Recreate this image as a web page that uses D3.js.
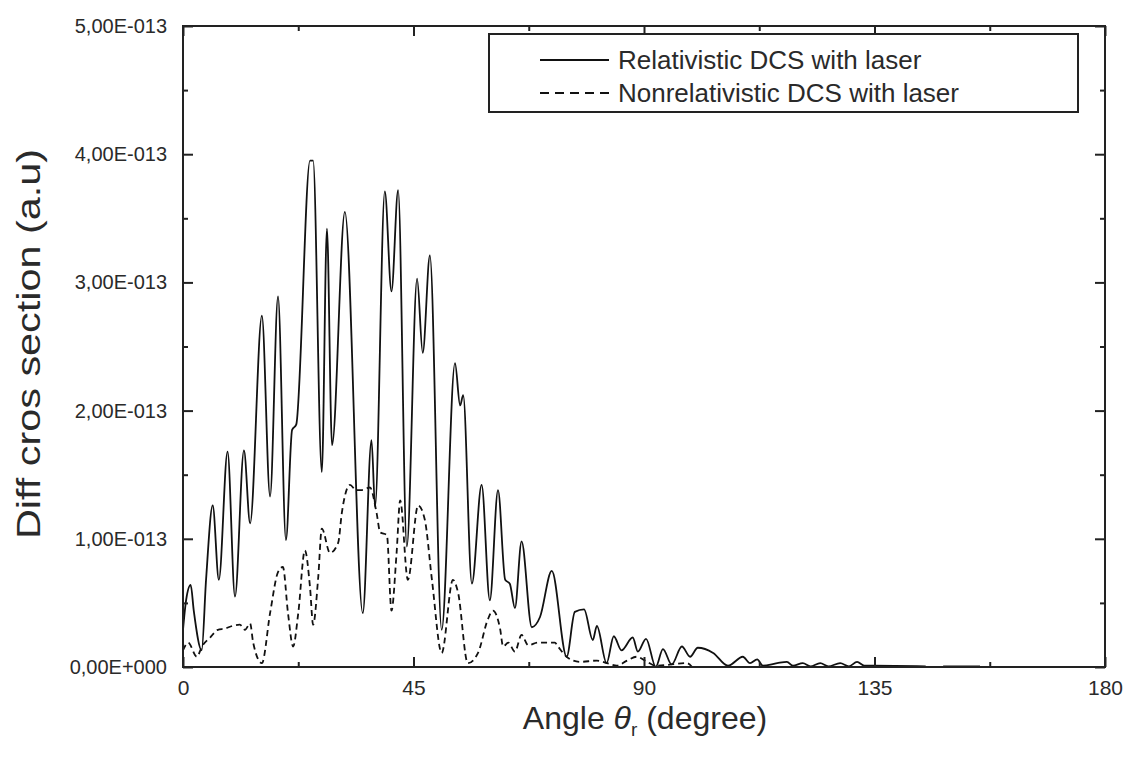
<!DOCTYPE html>
<html>
<head>
<meta charset="utf-8">
<script src="https://cdn.jsdelivr.net/npm/d3@7"></script>
<style>
  body { margin: 0; background: #fff; }
  text { font-family: "Liberation Sans", Arial, sans-serif; fill: #2a2a2a; }
</style>
</head>
<body>
<script>
// values of the y axis are in units of 1e-13 a.u.
var relAngle = [0, 0.6, 1.5, 2.1, 3.65, 4.5, 5.8, 7.0, 8.7, 10.15, 11.9, 13.1, 15.4, 17.0, 18.55, 20.1, 21.3, 22.1, 24.8, 25.4,
    27.1, 28.1, 29.1, 31.6, 35.1, 36.8, 37.5, 39.4, 40.7, 42.0, 43.7, 45.7, 46.8, 48.2, 50.5, 53.1, 54.1, 54.7, 56.4, 58.3,
    59.9, 61.5, 62.9, 63.8, 64.8, 66.1, 68.1, 69.7, 72.0, 74.9, 76.5, 78.3, 80.0, 80.8, 82.7, 84.1, 85.6, 87.8, 88.8, 90.4,
    92.3, 93.7, 95.4, 97.4, 99.0, 100.5, 103.5, 106.4, 109.3, 110.7, 112.1, 113.2, 116, 117.9, 119.1, 121, 122.5, 124.4, 126, 128.3,
    130, 131.6, 133, 134.7, 145, 146.5, 148.4, 155.6];
var relValue = [0.29, 0.52, 0.64, 0.44, 0.13, 0.68, 1.26, 0.68, 1.68, 0.55, 1.69, 1.12, 2.74, 1.33, 2.89, 0.99, 1.85, 1.89, 3.95, 3.95,
    1.52, 3.42, 1.73, 3.55, 0.42, 1.77, 1.25, 3.71, 2.93, 3.72, 0.94, 3.03, 2.45, 3.21, 0.29, 2.37, 2.04, 2.12, 0.65, 1.42,
    0.52, 1.38, 0.68, 0.65, 0.46, 0.98, 0.31, 0.39, 0.75, 0.08, 0.43, 0.45, 0.21, 0.32, 0.03, 0.24, 0.13, 0.23, 0.12, 0.22,
    0.0, 0.14, 0.02, 0.16, 0.08, 0.15, 0.11, 0.01, 0.08, 0.03, 0.06, 0.01, 0.03, 0.04, 0.01, 0.03, 0.005, 0.03, 0.005, 0.03,
    0.005, 0.04, 0.01, 0.01, 0.005, null, 0.005, 0.005];

var nonAngle = [0, 1.0, 2.7, 3.7, 5.3, 6.8, 8.2, 9.6, 11.1, 12.1, 13.1, 13.7, 15.4, 17.0, 18.55, 19.5, 20.5, 21.5, 22.5, 23.8,
    24.8, 25.4, 26.4, 27.1, 28.7, 30.3, 31.0, 32.6, 33.8, 34.9, 36.5, 37.8, 38.5, 39.8, 40.7, 41.7, 42.4, 43.9, 45.9, 47.2,
    48.6, 50.5, 52.7, 53.7, 55.6, 57.6, 59.5, 60.5, 61.9, 62.5, 63.5, 64.8, 66.1, 67.4, 69.3, 72.6, 73.2, 75.2, 77.5, 80.8,
    82.8, 84.7, 86.7, 88.6, 90.2, 92.3, 98.4, 99.4];
var nonValue = [0.13, 0.19, 0.08, 0.16, 0.23, 0.29, 0.30, 0.32, 0.33, 0.29, 0.34, 0.19, 0.03, 0.42, 0.74, 0.78, 0.42, 0.16, 0.42, 0.91,
    0.62, 0.33, 0.70, 1.08, 0.89, 0.97, 1.20, 1.42, 1.38, 1.38, 1.40, 1.20, 1.05, 1.03, 0.44, 0.89, 1.30, 0.68, 1.26, 1.15,
    0.68, 0.11, 0.68, 0.58, 0.03, 0.11, 0.37, 0.44, 0.30, 0.16, 0.19, 0.12, 0.25, 0.17, 0.19, 0.19, 0.16, 0.07, 0.04, 0.05,
    0.03, 0.01, 0.05, 0.08, 0.05, 0.01, 0.03, 0.0];

var xTicks = [0, 45, 90, 135, 180];
var xMinor = [22.5, 67.5, 112.5, 157.5];
var yTicks = [0, 1, 2, 3, 4, 5];
var yMinor = [0.5, 1.5, 2.5, 3.5, 4.5];
var yTickLabels = ["0,00E+000", "1,00E-013", "2,00E-013", "3,00E-013", "4,00E-013", "5,00E-013"];
var seriesNames = ["Relativistic DCS with laser", "Nonrelativistic DCS with laser"];

var W = 1124, H = 759;
var mLeft = 183, mRight = 1105, mTop = 26, mBottom = 667;

var svg = d3.select("body").append("svg")
    .attr("width", W)
    .attr("height", H);

var x = d3.scaleLinear().domain([0, 180]).range([mLeft, mRight]);
var y = d3.scaleLinear().domain([0, 5]).range([mBottom, mTop]);

// curves
var rel = relAngle.map(function(a, i){ return [a, relValue[i]]; });
var non = nonAngle.map(function(a, i){ return [a, nonValue[i]]; });

var line = d3.line()
    .defined(function(d){ return d[1] !== null; })
    .curve(d3.curveMonotoneX)
    .x(function(d){ return x(d[0]); })
    .y(function(d){ return y(d[1]); });

svg.append("path").datum(non)
    .attr("d", line)
    .attr("fill", "none")
    .attr("stroke", "#111")
    .attr("stroke-width", 1.8)
    .attr("stroke-dasharray", "6,4");

svg.append("path").datum(rel)
    .attr("d", line)
    .attr("fill", "none")
    .attr("stroke", "#111")
    .attr("stroke-width", 1.8)
    .attr("stroke-linejoin", "round");

// axes - ticks point inward on all four sides
function drawAxis(axis, tr){
    var g = svg.append("g").attr("transform", tr).call(axis);
    g.select(".domain").remove();
    g.selectAll("line").attr("stroke", "#222").attr("stroke-width", 2);
    return g;
}
var gx = drawAxis(d3.axisBottom(x).tickValues(xTicks).tickSize(-10).tickPadding(13), "translate(0," + mBottom + ")");
gx.selectAll("text").attr("font-size", 21).attr("fill", "#2a2a2a");
drawAxis(d3.axisBottom(x).tickValues(xMinor).tickSize(-5).tickFormat(""), "translate(0," + mBottom + ")");
drawAxis(d3.axisTop(x).tickValues(xTicks).tickSize(-10).tickFormat(""), "translate(0," + mTop + ")");
drawAxis(d3.axisTop(x).tickValues(xMinor).tickSize(-5).tickFormat(""), "translate(0," + mTop + ")");

var gy = drawAxis(d3.axisLeft(y).tickValues(yTicks).tickSize(-10).tickPadding(16)
    .tickFormat(function(d, i){ return yTickLabels[i]; }), "translate(" + mLeft + ",0)");
gy.selectAll("text").attr("font-size", 20).attr("fill", "#2a2a2a");
drawAxis(d3.axisLeft(y).tickValues(yMinor).tickSize(-5).tickFormat(""), "translate(" + mLeft + ",0)");
drawAxis(d3.axisRight(y).tickValues(yTicks).tickSize(-10).tickFormat(""), "translate(" + mRight + ",0)");
drawAxis(d3.axisRight(y).tickValues(yMinor).tickSize(-5).tickFormat(""), "translate(" + mRight + ",0)");

// frame
svg.append("rect")
    .attr("x", mLeft).attr("y", mTop)
    .attr("width", mRight - mLeft).attr("height", mBottom - mTop)
    .attr("fill", "none").attr("stroke", "#222").attr("stroke-width", 2);

// legend
var lg = svg.append("g");
lg.append("rect")
    .attr("x", 489).attr("y", 34)
    .attr("width", 589).attr("height", 78)
    .attr("fill", "#fff").attr("stroke", "#222").attr("stroke-width", 2);
seriesNames.forEach(function(name, i){
    var ly = 60 + i * 33;
    lg.append("line")
        .attr("x1", 540).attr("x2", 609)
        .attr("y1", ly).attr("y2", ly)
        .attr("stroke", "#111").attr("stroke-width", 1.8)
        .attr("stroke-dasharray", i == 0 ? null : "9,6");
    lg.append("text")
        .attr("x", 618).attr("y", ly + 9)
        .attr("font-size", 26)
        .text(name);
});

// axis titles
var xt = svg.append("text")
    .attr("x", 645).attr("y", 729)
    .attr("text-anchor", "middle")
    .attr("font-size", 32);
xt.append("tspan").text("Angle ");
xt.append("tspan").attr("font-style", "italic").text("θ");
xt.append("tspan").attr("font-size", 19).attr("dy", 7).text("r");
xt.append("tspan").attr("dy", -7).text(" (degree)");

svg.append("text")
    .attr("transform", "translate(40,344) rotate(-90)")
    .attr("text-anchor", "middle")
    .attr("font-size", 33)
    .attr("textLength", 390)
    .attr("lengthAdjust", "spacingAndGlyphs")
    .text("Diff cros section (a.u)");
</script>
</body>
</html>
